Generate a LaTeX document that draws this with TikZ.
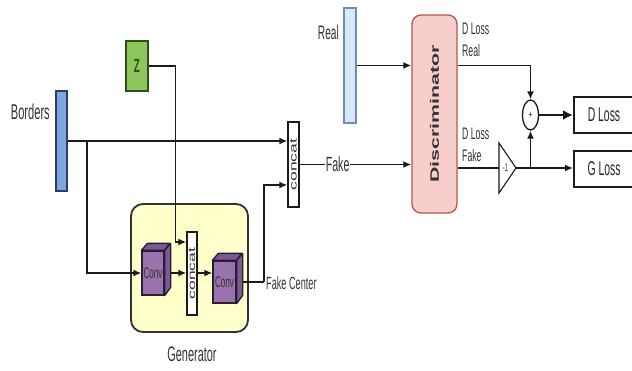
\documentclass[tikz,border=0pt]{standalone}
\usepackage{fontspec}
\setmainfont{Liberation Sans}[FakeStretch=0.52]
\newfontfamily\vfont{Liberation Sans}[FakeStretch=1.75]
\usetikzlibrary{arrows.meta,shapes.geometric}
\definecolor{lc}{HTML}{1A1A1A}
\definecolor{bordfill}{HTML}{7EA6E0}
\definecolor{bordline}{HTML}{2B3F66}
\definecolor{realfill}{HTML}{DAE8FC}
\definecolor{realline}{HTML}{6C8EBF}
\definecolor{zfill}{HTML}{8DC65A}
\definecolor{zline}{HTML}{2F4F1A}
\definecolor{discfill}{HTML}{F8CECC}
\definecolor{discline}{HTML}{B85450}
\definecolor{genfill}{HTML}{FFFFCC}
\definecolor{cubefront}{HTML}{9A72AE}
\definecolor{cubedark}{HTML}{7C5894}
\definecolor{cubeline}{HTML}{2A1C33}
\newcommand\fsz[1]{\fontsize{#1}{#1}\selectfont}
\tikzset{
  ln/.style={draw=lc, line width=1.8pt},
  arr/.style={ln, -{Latex[length=8pt,width=7pt]}},
  bigarr/.style={draw=lc, line width=2.6pt, -{Latex[length=10pt,width=10pt]}},
  bar/.style={rectangle, line width=1.3pt, inner sep=0pt},
  catbox/.style={rectangle, draw=lc, fill=white, line width=1.3pt, inner sep=0pt},
  cubef/.style={rectangle, draw=cubeline, fill=cubefront, line width=1.3pt, inner sep=0pt, font=\fsz{15.5}, text=black!80},
  cubet/.style={draw=cubeline, fill=cubedark, line width=1.3pt, line join=round},
  lossbox/.style={rectangle, draw=lc, fill=white, line width=2pt, inner sep=0pt, font=\fsz{20}, text=black!85},
  lbl/.style={inner sep=0pt, text=black!80},
}
\begin{document}
\begin{tikzpicture}[x=1pt,y=-1pt]
\useasboundingbox (0,0) rectangle (632,370);
% generator container
\node[rectangle, rounded corners=12pt, draw=lc!90, fill=genfill, line width=1.8pt,
      minimum width=117pt, minimum height=128pt, inner sep=0pt] (gen) at (189.5,268) {};
\node[lbl, font=\fsz{21}] (genlbl) at (192,354) {Generator};
% inputs
\node[bar, fill=bordfill, draw=bordline, minimum width=11pt, minimum height=100pt] (borders) at (61.5,141) {};
\node[lbl, anchor=east, font=\fsz{21.4}] (bordlbl) at (50,112) {Borders};
\node[rectangle, fill=zfill, draw=zline, line width=1.3pt, minimum width=22pt, minimum height=50pt,
      inner sep=0pt, font=\bfseries\fsz{19}, text=zline] (z) at (137,66) {Z};
\node[bar, fill=realfill, draw=realline, minimum width=12pt, minimum height=115pt] (real) at (350,65.5) {};
\node[lbl, anchor=east, font=\fsz{19.5}] (reallbl) at (339,32.5) {Real};
% concat boxes
\node[catbox, minimum width=11pt, minimum height=85pt] (cat1) at (293.5,164.5) {\rotatebox{90}{\vfont\fsz{10}\color{black!80}concat}};
\node[catbox, minimum width=10pt, minimum height=83pt] (gcat) at (192,273.5) {\rotatebox{90}{\vfont\fsz{10}\color{black!80}concat}};
% conv cubes
\node[cubef, minimum width=22pt, minimum height=44pt] (conv1) at (153,273) {Conv};
\draw[cubet] (conv1.north west) -- ++(6,-7) -- ++(22,0) -- (conv1.north east) -- cycle;
\draw[cubet] (conv1.north east) -- ++(6,-7) -- ++(0,44) -- (conv1.south east) -- cycle;
\node[cubef, minimum width=23pt, minimum height=42pt] (conv2) at (224.5,282) {Conv};
\draw[cubet] (conv2.north west) -- ++(6,-7) -- ++(23,0) -- (conv2.north east) -- cycle;
\draw[cubet] (conv2.north east) -- ++(6,-7) -- ++(0,42) -- (conv2.south east) -- cycle;
% discriminator
\node[rectangle, rounded corners=9pt, draw=discline, fill=discfill, line width=1.3pt,
      minimum width=45pt, minimum height=198pt, inner sep=0pt] (disc) at (434.5,114)
      {\rotatebox{90}{\vfont\bfseries\fsz{12.2}\color{black!80}Discriminator}};
% generator wiring
\coordinate (br) at (87,141);
\draw[arr] (borders.east) -- (cat1.west |- borders.east);
\draw[arr] (br) |- (conv1.west);
\coordinate (zc) at (175.5,242);
\draw[arr] (z.east) -| (zc) -- (gcat.west |- zc);
\draw[arr] ([xshift=6pt]conv1.east) -- (gcat.west |- conv1.east);
\draw[arr] (gcat.east |- conv1.east) -- (conv2.west |- conv1.east);
\coordinate (fc) at (264,282);
\draw[ln] ([xshift=6pt]conv2.east) -- (fc);
\node[lbl, anchor=west, font=\fsz{17.6}] (fclbl) at (266,283) {Fake Center};
\draw[arr] (fc) |- ([yshift=-20.5pt]cat1.west);
% discriminator wiring
\draw[arr] (cat1.east) -- node[pos=0.34, fill=white, inner sep=1pt, font=\fsz{20.5}, text=black!80] (fake) {Fake} (disc.west |- cat1.east);
\draw[arr] (real.east) -- (disc.west |- real.east);
\node[lbl, anchor=north west, align=left, font=\fontsize{16.7}{22}\selectfont] (dlr) at (462,23) {D Loss\\Real};
\node[lbl, anchor=north west, align=left, font=\fontsize{16.7}{22.5}\selectfont] (dlf) at (462,127.5) {D Loss\\Fake};
% losses
\node[lossbox, minimum width=60pt, minimum height=36pt, anchor=west] (dloss) at (573,115) {D Loss};
\node[lossbox, minimum width=60pt, minimum height=36pt, anchor=west] (gloss) at (573,169) {G Loss};
\node[ellipse, draw=lc, line width=1.3pt, fill=white, minimum width=16pt, minimum height=30pt,
      inner sep=0pt, font=\fsz{11}] (plus) at (530.5,115) {+};
\coordinate (negL) at (499,168);
\coordinate (negA) at (516,168);
\draw[draw=lc, line width=1.1pt, fill=white, line join=miter] (499,143) -- (negA) -- (499,193) -- cycle;
\node[lbl, font=\fsz{11}] (neglbl) at (505.5,168) {-1};
\draw[arr] (disc.east |- real.east) -| (plus.north);
\draw[ln] (disc.east |- negL) -- (negL);
\draw[arr] (negA) -- (gloss.west |- negA);
\draw[arr] (plus.south |- negA) -- (plus.south);
\draw[bigarr] (plus.east) -- (dloss.west);
\end{tikzpicture}
\end{document}
